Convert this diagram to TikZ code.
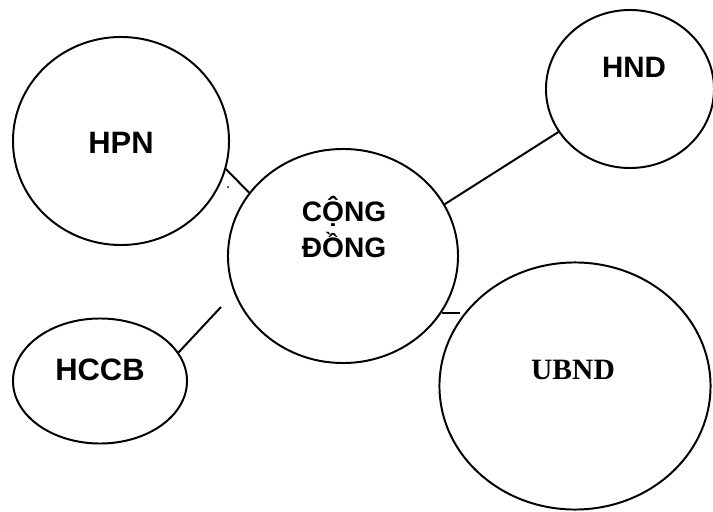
\documentclass[tikz,border=0pt]{standalone}
\usepackage{fontspec}
\setmainfont{Liberation Sans}
\newfontfamily\serifbf{Liberation Serif}
\usetikzlibrary{shapes.geometric}

\begin{document}
\begin{tikzpicture}[x=0.025cm, y=-0.025cm,
		oval/.style={draw, ellipse, line width=1.4pt, inner sep=0pt},
		lbl/.style={font=\fontsize{22}{26}\selectfont\bfseries, align=center}]
		\path[use as bounding box, fill=white] (0, 0) rectangle (713, 512);

		\node[oval, minimum width=5.4cm, minimum height=5.2cm] (hpn) at (121, 141) {};
		\node[oval, minimum width=5.75cm, minimum height=5.35cm] (cd) at (343, 256) {};
		\node[oval, minimum width=4.2cm, minimum height=3.95cm] (hnd) at (630, 89) {};
		\node[oval, minimum width=4.35cm, minimum height=3.125cm] (hccb) at (100, 381) {};
		\node[oval, minimum width=6.775cm, minimum height=6.175cm] (ubnd) at (575, 386) {};

		\node[lbl] (hpntext) at (121, 143) {HPN};
		\node[lbl, font=\fontsize{20}{25.5}\selectfont\bfseries] (cdtext) at (344, 227) {CỘNG\\ĐỒNG};
		\node[lbl, font=\fontsize{21}{25}\selectfont\bfseries] (hndtext) at (634, 67) {HND};
		\node[lbl] (hccbtext) at (100, 370) {HCCB};
		\node[lbl, font=\fontsize{21}{25}\selectfont\serifbf\bfseries] (ubndtext) at (573, 370) {UBND};

		\coordinate (cdgap) at (221, 307);

		\draw[line width=1.4pt] (hpn.-15) -- (cd.146);
		\draw[line width=1.4pt] (cd.27) -- (hnd.-149);
		\draw[line width=1.4pt] (hccb.20) -- (cdgap);
		\draw[line width=1.4pt] (cd.-30) -- (cd.-30 -| ubnd.150);
		\fill (228, 187) circle (1);
	\end{tikzpicture}
\end{document}
